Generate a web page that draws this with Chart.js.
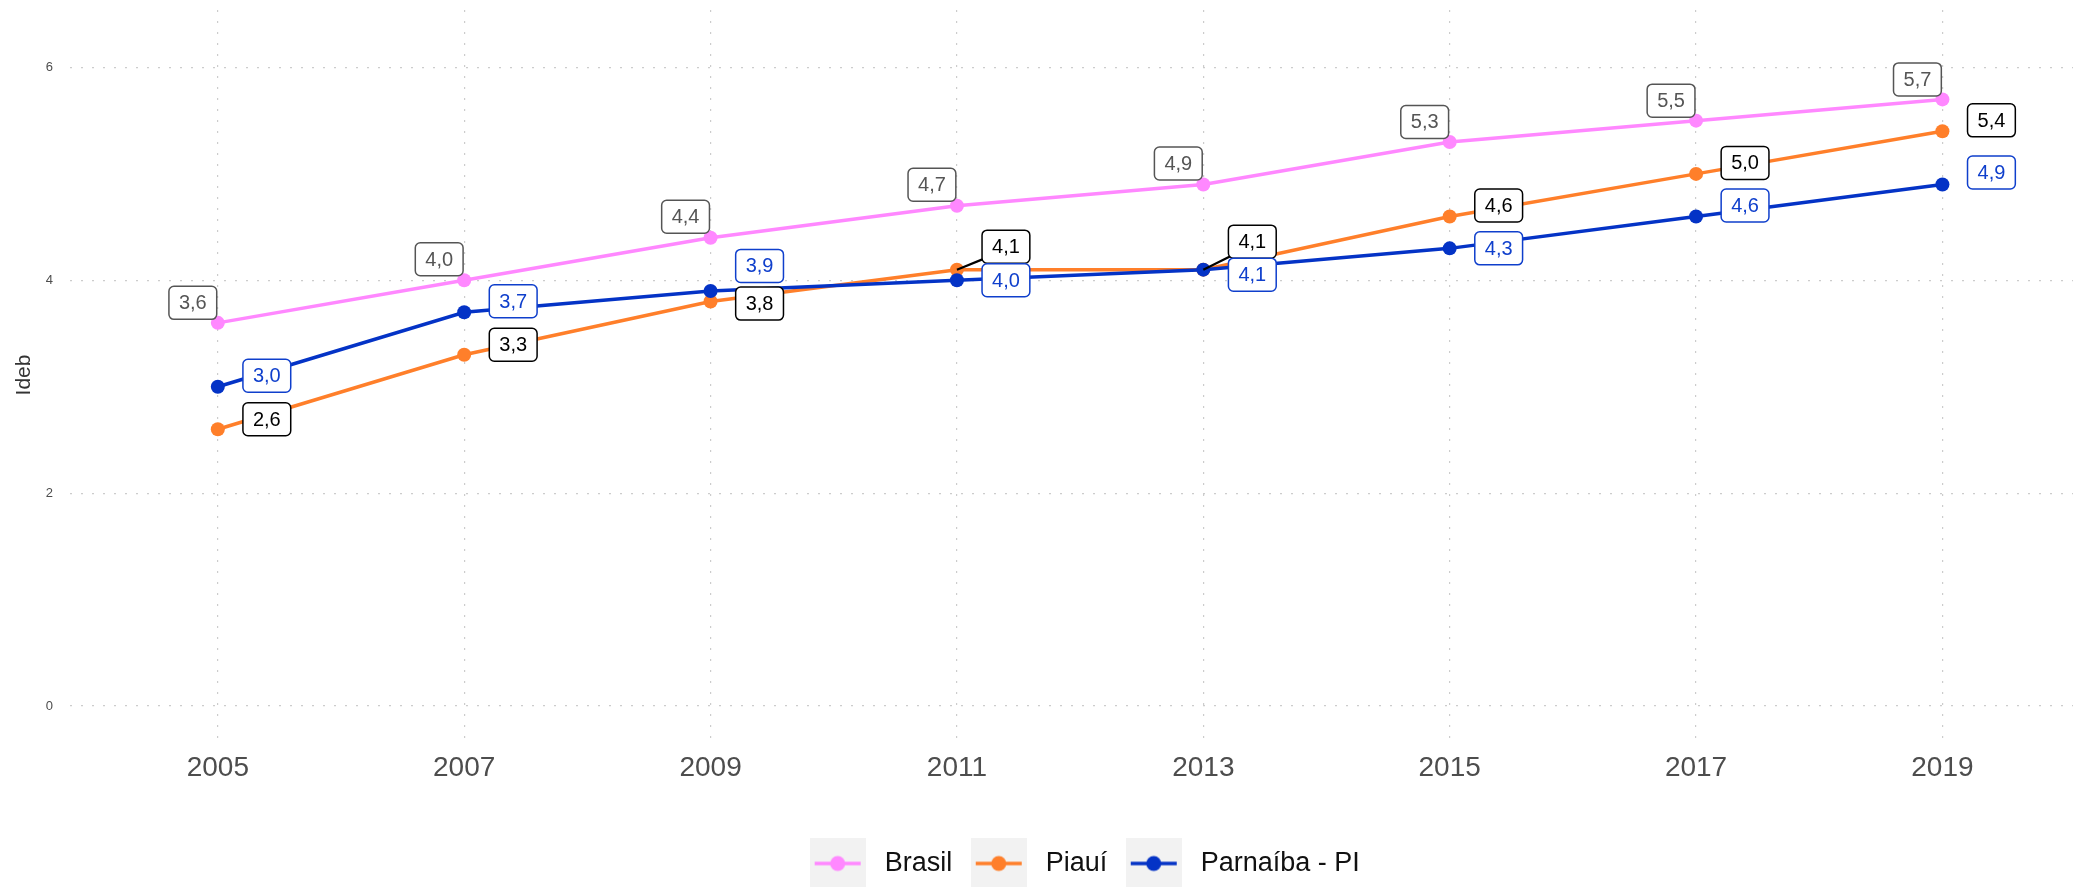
<!DOCTYPE html>
<html>
<head>
<meta charset="utf-8">
<title>Ideb</title>
<script src="https://cdn.jsdelivr.net/npm/chart.js@4/dist/chart.umd.min.js"></script>
<style>
  html, body { margin: 0; padding: 0; background: #fff; }
  canvas { display: block; }
</style>
</head>
<body>
<canvas id="idebChart" width="2080" height="887"></canvas>
<script>
// anos das avaliações
var anos = [2005, 2007, 2009, 2011, 2013, 2015, 2017, 2019]
// Ideb de cada série
var brasil = [3.6, 4.0, 4.4, 4.7, 4.9, 5.3, 5.5, 5.7]
var piaui = [2.6, 3.3, 3.8, 4.1, 4.1, 4.6, 5.0, 5.4]
var parnaiba = [3.0, 3.7, 3.9, 4.0, 4.1, 4.3, 4.6, 4.9]
// marcas dos eixos
var ticksX = [2005, 2007, 2009, 2011, 2013, 2015, 2017, 2019]
var ticksY = [0, 2, 4, 6]

// deslocamento (px) de cada rótulo em relação ao seu ponto
var posBrasil = { dx: -25, dy: [-20, -21, -21, -21, -21, -20, -20, -20] }
var posPiaui = { dx: 49, dy: [-10, -10, 2, -23, -28, -11, -11, -11], linha: [3, 4] }
var posParnaiba = { dx: 49, dy: [-11, -11, -25, 0, 5, 0, -11, -12] }

Chart.defaults.font.family = "'Liberation Sans', Arial, sans-serif"

function pontos(valores) {
  return anos.map(function (ano, i) { return { x: ano, y: valores[i] } })
}

// chave da legenda: fundo cinza com linha e ponto
function chave(cor) {
  var c = document.createElement('canvas')
  c.width = 56
  c.height = 52
  var g = c.getContext('2d')
  g.fillStyle = '#f2f2f2'
  g.fillRect(0, 0, 56, 52)
  g.strokeStyle = cor
  g.lineWidth = 3.5
  g.beginPath()
  g.moveTo(5, 26)
  g.lineTo(51, 26)
  g.stroke()
  g.fillStyle = cor
  g.beginPath()
  g.arc(28, 26, 7.5, 0, Math.PI * 2)
  g.fill()
  return c
}

function caixa(ctx, x, y, w, h, r) {
  ctx.beginPath()
  ctx.moveTo(x + r, y)
  ctx.lineTo(x + w - r, y)
  ctx.arcTo(x + w, y, x + w, y + r, r)
  ctx.lineTo(x + w, y + h - r)
  ctx.arcTo(x + w, y + h, x + w - r, y + h, r)
  ctx.lineTo(x + r, y + h)
  ctx.arcTo(x, y + h, x, y + h - r, r)
  ctx.lineTo(x, y + r)
  ctx.arcTo(x, y, x + r, y, r)
  ctx.closePath()
}

// rótulos com o valor de cada ponto (vírgula decimal)
var rotulos = {
  id: 'rotulos',
  afterDatasetsDraw: function (chart) {
    var ctx = chart.ctx
    chart.data.datasets.forEach(function (ds, d) {
      var pos = ds.rotulo
      var meta = chart.getDatasetMeta(d)
      ctx.save()
      ctx.font = "20px 'Liberation Sans', Arial, sans-serif"
      ctx.textAlign = 'center'
      ctx.textBaseline = 'middle'
      meta.data.forEach(function (pt, i) {
        var texto = ds.data[i].y.toFixed(1).replace('.', ',')
        var w = ctx.measureText(texto).width + 20
        var h = 33
        var cx = pt.x + pos.dx
        var cy = pt.y + pos.dy[i]
        // segmento ligando o ponto ao rótulo
        if (pos.linha && pos.linha.indexOf(i) >= 0) {
          var vx = cx - pt.x, vy = cy - pt.y
          var t = Math.max((Math.abs(vx) - w / 2) / Math.abs(vx), (Math.abs(vy) - h / 2) / Math.abs(vy))
          ctx.strokeStyle = ds.corRotulo
          ctx.lineWidth = 2.2
          ctx.beginPath()
          ctx.moveTo(pt.x, pt.y)
          ctx.lineTo(pt.x + vx * t + 4, pt.y + vy * t)
          ctx.stroke()
        }
        caixa(ctx, cx - w / 2, cy - h / 2, w, h, 5)
        ctx.fillStyle = '#ffffff'
        ctx.fill()
        ctx.lineWidth = 1.5
        ctx.strokeStyle = ds.corRotulo
        ctx.stroke()
        ctx.fillStyle = ds.corRotulo
        ctx.fillText(texto, cx, cy + 1)
      })
      ctx.restore()
    })
  }
}

// legenda um pouco deslocada para a direita
var legendaDireita = {
  id: 'legendaDireita',
  afterLayout: function (chart) {
    if (chart.legend) chart.legend.left += 89
  }
}

var grade = { color: '#cccccc', lineWidth: 1.2, drawTicks: false }

// tamanho fixo dos eixos, sem folga extra para os rótulos das pontas
function semFolga(s) {
  s.paddingTop = 0
  s.paddingBottom = 0
  s.paddingLeft = 0
  s.paddingRight = 0
}

var ctx = document.getElementById('idebChart').getContext('2d')

var idebChart = new Chart(ctx, {
  type: 'line',
  data: {
    datasets: [
      {
        label: 'Brasil',
        data: pontos(brasil),
        borderColor: '#ff88ff',
        backgroundColor: '#ff88ff',
        corRotulo: '#555555',
        rotulo: posBrasil,
        order: 2
      },
      {
        label: 'Piauí',
        data: pontos(piaui),
        borderColor: '#ff7f2a',
        backgroundColor: '#ff7f2a',
        corRotulo: '#000000',
        rotulo: posPiaui,
        order: 1
      },
      {
        label: 'Parnaíba - PI',
        data: pontos(parnaiba),
        borderColor: '#0433c6',
        backgroundColor: '#0433c6',
        corRotulo: '#0f3fcc',
        rotulo: posParnaiba,
        order: 0
      }
    ]
  },
  options: {
    responsive: false,
    animation: false,
    layout: { padding: { top: 10, right: 5, left: 0, bottom: 0 } },
    elements: {
      line: { borderWidth: 3.5, tension: 0 },
      point: { radius: 7, borderWidth: 0, hoverRadius: 7 }
    },
    scales: {
      x: {
        type: 'linear',
        min: 2003.8,
        max: 2020.06,
        afterBuildTicks: function (s) { s.ticks = ticksX.map(function (v) { return { value: v } }) },
        afterFit: function (s) { s.height = 97; semFolga(s) },
        grid: grade,
        border: { display: false, dash: [2, 9] },
        ticks: {
          padding: 11,
          color: '#4d4d4d',
          font: { size: 28 },
          callback: function (v) { return String(v) }
        }
      },
      y: {
        min: -0.32,
        max: 6.54,
        afterBuildTicks: function (s) { s.ticks = ticksY.map(function (v) { return { value: v } }) },
        afterFit: function (s) { s.width = 70; semFolga(s) },
        grid: grade,
        border: { display: false, dash: [2, 9] },
        ticks: {
          padding: 17,
          color: '#4d4d4d',
          font: { size: 13 },
          callback: function (v) { return String(v) }
        },
        title: {
          display: true,
          text: 'Ideb',
          color: '#333333',
          font: { size: 21 },
          padding: { top: 12, bottom: 0 }
        }
      }
    },
    plugins: {
      tooltip: { enabled: false },
      legend: {
        position: 'bottom',
        labels: {
          usePointStyle: true,
          pointStyleWidth: 67,
          padding: 13,
          color: '#111111',
          font: { size: 27 },
          generateLabels: function (chart) {
            return chart.data.datasets.map(function (ds, i) {
              return {
                text: ds.label,
                pointStyle: chave(ds.borderColor),
                fontColor: '#111111',
                fillStyle: 'transparent',
                strokeStyle: 'transparent',
                lineWidth: 0,
                hidden: false,
                datasetIndex: i
              }
            })
          }
        }
      }
    }
  },
  plugins: [rotulos, legendaDireita]
})
</script>
</body>
</html>
